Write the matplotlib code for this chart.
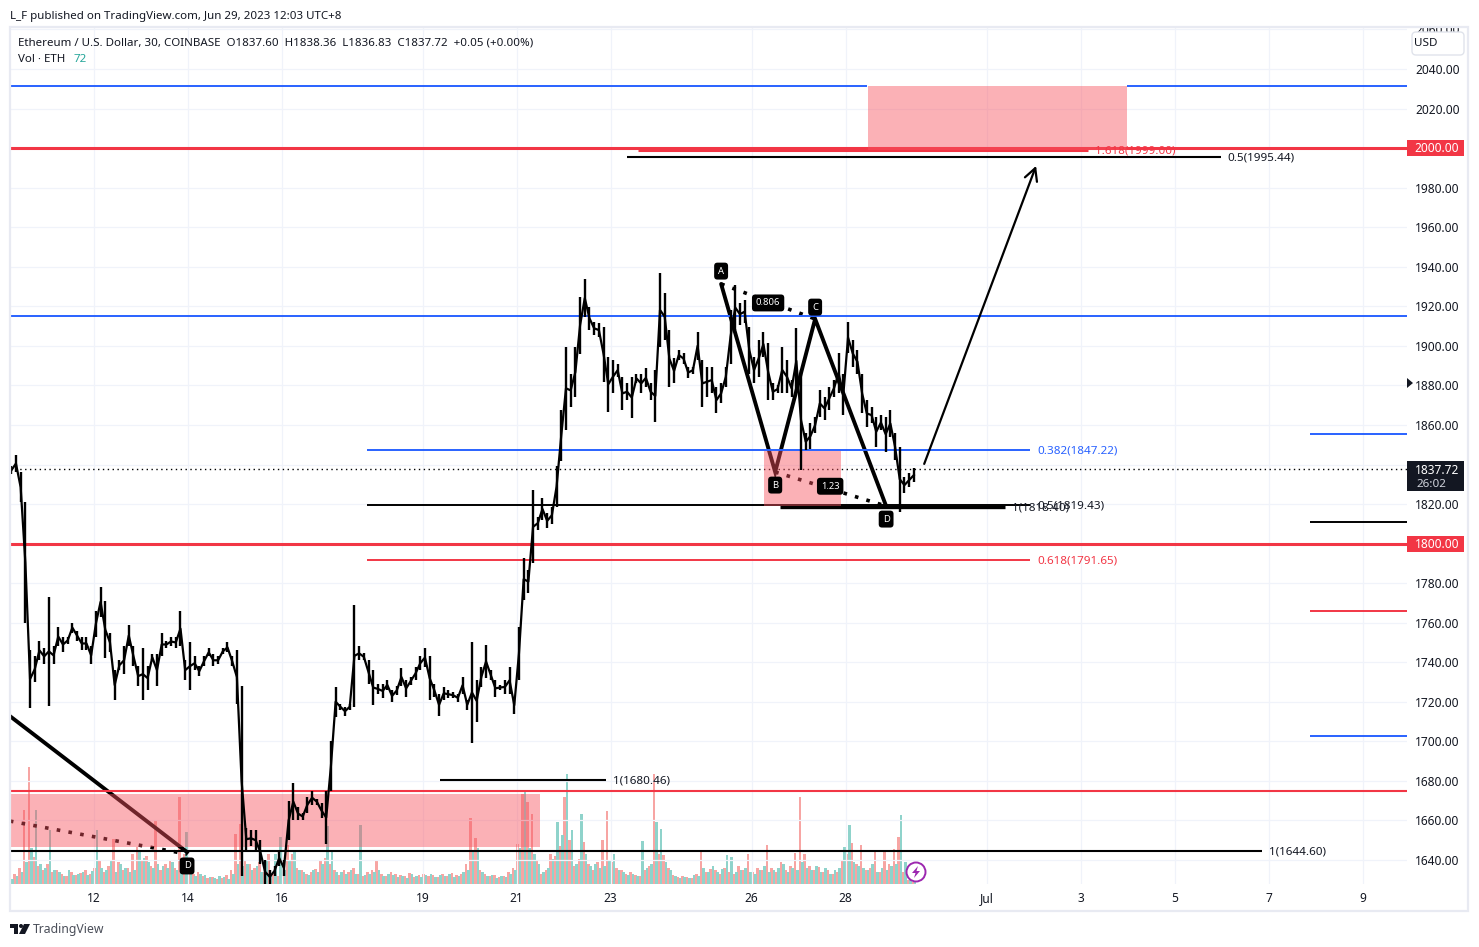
"""Ethereum / USD 30 minute chart with harmonic pattern drawings"""
import numpy as np
import matplotlib
matplotlib.use("Agg")
import matplotlib.pyplot as plt
from matplotlib.patches import Circle, FancyBboxPatch, Polygon, Rectangle
from matplotlib.transforms import IdentityTransform

FIRST_DAY = 10.25
BAR_STEP = 0.1

# June day numbers, July 1 is day 31
price_high = [
    1839, 1845, 1836, 1821, 1746, 1743, 1751, 1747, 1773, 1748,
    1758, 1753, 1753, 1760, 1756, 1753, 1753, 1748, 1766, 1778,
    1771, 1755, 1736, 1741, 1748, 1759, 1748, 1738, 1747, 1738,
    1744, 1744, 1755, 1751, 1753, 1753, 1766, 1741, 1750, 1743,
    1738, 1743, 1747, 1744, 1743, 1747, 1750, 1743, 1746, 1728,
    1656, 1655, 1655, 1650, 1640, 1635, 1637, 1645, 1640, 1670,
    1679, 1667, 1664, 1672, 1675, 1671, 1669, 1675, 1700, 1727.6,
    1719, 1717.5, 1719, 1769, 1748, 1744.5, 1741, 1736, 1729, 1729,
    1731, 1726, 1728, 1737, 1731, 1732.7, 1737.7, 1743, 1747, 1743,
    1729, 1724, 1727.6, 1726, 1725, 1724, 1732.7, 1721, 1750.4, 1731,
    1737.7, 1748.7, 1736, 1731, 1728.5, 1731, 1737.7, 1722.6, 1758, 1792.5,
    1786.6, 1827, 1813.6, 1823, 1815.3, 1818.7, 1839, 1867.5, 1899.6, 1886,
    1899.6, 1924.9, 1933.6, 1919.8, 1912.2, 1911.4, 1909.7, 1894.5, 1892.8, 1891,
    1884.4, 1881, 1884.4, 1886, 1886, 1888.6, 1881, 1887.8, 1936.7, 1926.5,
    1908, 1893.7, 1897.9, 1896.2, 1889.4, 1889.4, 1907.2, 1892.8, 1889.4, 1889.4,
    1879.3, 1881, 1889.4, 1918.1, 1930.8, 1921.5, 1923.2, 1909.7, 1894.5, 1903,
    1907.2, 1901.3, 1881, 1880.2, 1899.6, 1892.8, 1882.7, 1908.8, 1887.8, 1855.7,
    1860.8, 1864.2, 1877.6, 1874.3, 1879.3, 1882.7, 1896.2, 1886, 1912.2, 1903,
    1897.9, 1886, 1872.6, 1869.2, 1864.2, 1865, 1864.2, 1867.5, 1855.7, 1849,
    1833.8, 1835.5, 1838,
]
price_low = [
    1835, 1836, 1821, 1760, 1717, 1730, 1741, 1739, 1718, 1739,
    1748, 1745, 1749, 1755, 1751, 1746, 1746, 1739, 1753, 1763,
    1742, 1745, 1721, 1736, 1734, 1748, 1738, 1728, 1721, 1726,
    1741, 1728, 1743, 1747, 1748, 1747, 1748, 1731, 1726, 1736,
    1733, 1738, 1743, 1738, 1739, 1744, 1745, 1738, 1719, 1632,
    1645, 1647, 1645, 1638, 1628, 1628, 1632, 1637, 1632, 1650,
    1660, 1660, 1660, 1664, 1668, 1668, 1661, 1648, 1675, 1712.5,
    1716, 1713, 1716, 1717.5, 1741, 1741, 1729, 1718.4, 1724, 1722,
    1726, 1720, 1723.4, 1728, 1722.6, 1728.5, 1731, 1736, 1737.7, 1721,
    1722.6, 1713, 1721, 1721.7, 1721.7, 1720, 1724, 1716, 1699, 1710,
    1727.6, 1732, 1731, 1722.6, 1726, 1724, 1724, 1714, 1731, 1771.5,
    1775, 1790, 1807, 1812, 1807.7, 1810, 1818.6, 1842, 1857.4, 1869,
    1874, 1896, 1914.7, 1908, 1905.5, 1904.6, 1881.9, 1866.7, 1876, 1884.4,
    1867.5, 1872.6, 1863.3, 1881, 1876, 1879, 1872.6, 1861.6, 1899.6, 1903,
    1879, 1881, 1892.8, 1891, 1883.6, 1886, 1892.8, 1869.2, 1874.3, 1876,
    1865.8, 1870.9, 1879.3, 1891, 1908, 1910.5, 1911.4, 1886, 1881, 1884.4,
    1894.5, 1872.6, 1872.6, 1876, 1876, 1876, 1874.3, 1876, 1837, 1847.3,
    1848, 1855.7, 1864.2, 1862.5, 1867.5, 1874.3, 1876, 1865, 1896.2, 1889.4,
    1886, 1865.8, 1859, 1860.8, 1849, 1857.4, 1846.5, 1854, 1842.2, 1816.1,
    1825.4, 1828.8, 1831.3,
]

volume_down = [
    7, 10, 16, 74, 117, 27, 18, 14, 20, 12,
    14, 10, 8, 12, 9, 11, 14, 10, 16, 24,
    12, 18, 45, 22, 14, 16, 30, 37, 24, 28,
    18, 64, 14, 20, 24, 16, 87, 30, 16, 10,
    12, 8, 6, 7, 5, 6, 9, 14, 50, 60,
    24, 20, 16, 22, 12, 30, 10, 8, 20, 39,
    30, 16, 14, 10, 12, 15, 24, 26, 20, 14,
    9, 14, 12, 16, 10, 8, 12, 14, 24, 10,
    8, 12, 10, 9, 8, 11, 7, 9, 10, 8,
    9, 7, 10, 8, 11, 9, 10, 20, 66, 46,
    14, 10, 8, 9, 7, 8, 12, 16, 40, 90,
    82, 70, 24, 10, 14, 30, 28, 38, 87, 44,
    18, 25, 42, 20, 14, 22, 44, 73, 22, 16,
    14, 10, 12, 9, 8, 14, 18, 110, 30, 29,
    16, 9, 7, 8, 7, 6, 10, 32, 12, 15,
    14, 10, 16, 12, 10, 18, 14, 30, 12, 16,
    14, 39, 16, 12, 22, 14, 18, 31, 87, 30,
    18, 14, 17, 12, 14, 10, 12, 24, 30, 41,
    20, 39, 14, 16, 32, 12, 32, 20, 35, 47,
    12, 4, 2,
]
volume_up = [
    5, 8, 12, 22, 36, 74, 20, 16, 54, 14,
    12, 8, 14, 9, 10, 12, 9, 13, 54, 16,
    14, 24, 12, 20, 16, 12, 14, 34, 26, 22,
    16, 20, 18, 16, 22, 14, 20, 52, 14, 8,
    10, 9, 7, 6, 8, 7, 5, 10, 20, 18,
    20, 14, 18, 12, 24, 10, 30, 47, 14, 24,
    34, 14, 12, 9, 14, 12, 20, 58, 34, 12,
    12, 10, 14, 10, 59, 9, 10, 12, 14, 8,
    10, 9, 7, 8, 6, 10, 8, 7, 9, 10,
    7, 9, 8, 10, 7, 8, 12, 14, 34, 36,
    12, 8, 9, 6, 8, 7, 10, 14, 36, 92,
    36, 30, 20, 12, 16, 25, 62, 49, 110, 54,
    20, 70, 30, 18, 20, 16, 18, 24, 30, 14,
    12, 9, 10, 8, 43, 16, 20, 62, 55, 22,
    14, 8, 6, 7, 6, 9, 8, 16, 12, 18,
    12, 15, 29, 27, 12, 14, 16, 12, 10, 14,
    18, 12, 14, 16, 20, 12, 16, 14, 22, 16,
    14, 18, 12, 16, 10, 14, 16, 37, 59, 22,
    18, 16, 14, 20, 12, 16, 14, 18, 20, 69,
    22, 10, 3,
]

y_ticks = list(range(1640, 2061, 20))
# 1800, 1840 and 2000 sit behind the price flags
hidden_ticks = [1800, 1840, 2000]
x_ticks = [12, 14, 16, 19, 21, 23, 26, 28, 31, 33, 35, 37, 39]
x_labels = ["12", "14", "16", "19", "21", "23", "26", "28", "Jul", "3", "5", "7", "9"]

# price, start day, end day, colour, width in points
level_lines = [
    (2031.4, 10.22, 28.45, "#2962ff", 1.4),
    (2031.4, 33.99, 39.94, "#2962ff", 1.4),
    (2000.0, 10.22, 39.94, "#f23645", 2.2),
    (1915.0, 10.22, 39.94, "#2962ff", 1.4),
    (1800.0, 10.22, 39.94, "#f23645", 2.2),
    (1675.0, 10.22, 39.94, "#f23645", 1.5),
    (1644.6, 10.22, 36.86, "#000000", 1.5),
    (1999.0, 23.58, 33.16, "#f23645", 2.2),
    (1995.44, 23.35, 35.99, "#000000", 1.5),
    (1847.22, 17.82, 31.92, "#2962ff", 1.4),
    (1819.43, 17.82, 31.92, "#000000", 1.4),
    (1791.65, 17.82, 31.92, "#f23645", 1.4),
    (1680.46, 19.37, 22.90, "#000000", 1.5),
    (1818.40, 26.61, 31.39, "#000000", 2.4),
    (1855.4, 37.88, 39.94, "#2962ff", 1.4),
    (1810.9, 37.88, 39.94, "#000000", 1.4),
    (1766.0, 37.88, 39.94, "#f23645", 1.4),
    (1702.7, 37.88, 39.94, "#2962ff", 1.4),
]
# text, day, price, colour
level_labels = [
    ("1.618(1999.00)", 33.31, 1998.6, "#f23645"),
    ("0.5(1995.44)", 36.11, 1995.0, "#131722"),
    ("0.382(1847.22)", 32.08, 1846.8, "#2962ff"),
    ("0.5(1819.43)", 32.08, 1819.0, "#131722"),
    ("1(1818.40)", 31.53, 1818.0, "#131722"),
    ("0.618(1791.65)", 32.08, 1791.2, "#f23645"),
    ("1(1680.46)", 23.05, 1680.0, "#131722"),
    ("1(1644.60)", 37.01, 1644.2, "#131722"),
]
# start day, end day, low price, high price
zones = [
    (28.47, 33.99, 1999.0, 2031.4),
    (26.26, 27.90, 1819.0, 1846.8),
    (10.22, 21.50, 1646.6, 1673.4),
]

pattern_days = [25.35, 26.50, 27.35, 28.86]
pattern_prices = [1931.3, 1836.2, 1913.6, 1819.0]
pattern_names = ["A", "B", "C", "D"]
pattern_name_prices = [1937.8, 1829.6, 1919.6, 1812.4]
old_pattern_days = [10.22, 13.99]
old_pattern_prices = [1712.8, 1644.0]
old_dotted_prices = [1659.7, 1643.0]

PANE_TOP, PANE_BOTTOM = 27, 884
PANE_LEFT, PANE_RIGHT = 10, 1407
FONT = "Noto Sans"
INK = "#131722"
DOTS = (0, (1, 2.3))


def fx(x):
    """Picture pixel x to figure fraction"""
    return x / 1479


def fy(y):
    """Picture pixel y to figure fraction"""
    return 1 - y / 947


def badge(ax, day, price, text, size=6.8):
    """Black rounded label with white text"""
    ax.text(day, price, text, ha="center", va="center", color="white",
            fontsize=size, fontweight="bold", family=FONT, zorder=8,
            bbox=dict(boxstyle="round,pad=0.42,rounding_size=0.35", fc="#000000",
                      ec="none"))


def add_logo(fig):
    """TradingView mark in the footer, drawn in screen pixels"""
    shapes = [
        [(10, 924), (18, 924), (18, 934), (14, 934), (14, 928), (10, 928)],
        [(24, 924), (30, 924), (25, 934), (19, 934)],
    ]
    for shape in shapes:
        pts = [(x, 947 - y) for x, y in shape]
        fig.add_artist(Polygon(pts, closed=True, fc=INK, ec="none",
                               transform=IdentityTransform()))
    fig.add_artist(Circle((21, 947 - 926), 2, fc=INK, ec="none",
                          transform=IdentityTransform()))


def add_frame(fig):
    """Mask above the pane, outer frame and the currency box"""
    fig.add_artist(Rectangle((fx(1407), fy(27)), fx(72), 27 / 947, fc="white",
                             ec="none", zorder=5))
    fig.add_artist(Rectangle((fx(10), fy(911)), fx(1458), 884 / 947, fc="none",
                             ec="#e8eaf2", lw=1.6, zorder=6))
    fig.add_artist(FancyBboxPatch((1412, 947 - 55), 52, 23,
                                  boxstyle="round,pad=0,rounding_size=4",
                                  fc="white", ec="#e0e3eb", lw=1,
                                  transform=IdentityTransform(), zorder=6))
    fig.text(fx(1414), fy(43), "USD", fontsize=8.4, family=FONT, color=INK,
             va="center", zorder=7)


def add_price_flags(fig):
    """Coloured price labels sitting on the right scale"""
    for (y, label) in ((148, "2000.00"), (544, "1800.00")):
        fig.add_artist(Rectangle((fx(1407), fy(y + 8)), fx(57), 16 / 947,
                                 fc="#f23645", ec="none", zorder=6))
        fig.text(fx(1437), fy(y + 0.5), label, color="white", fontsize=8.6,
                 fontweight="bold", family=FONT, ha="center", va="center",
                 zorder=7)
    fig.add_artist(Rectangle((fx(1407), fy(491)), fx(57), 30 / 947, fc="#131722",
                             ec="none", zorder=6))
    fig.text(fx(1437), fy(470), "1837.72", color="white", fontsize=8.6,
             fontweight="bold", family=FONT, ha="center", va="center", zorder=7)
    fig.text(fx(1431), fy(484), "26:02", color="#d1d4dc", fontsize=8.4,
             family=FONT, ha="center", va="center", zorder=7)
    fig.add_artist(Polygon([(1407, 947 - 378), (1413, 947 - 383),
                            (1407, 947 - 388)], closed=True, fc=INK, ec="none",
                           transform=IdentityTransform(), zorder=6))


def main():
    """Go Main Go"""
    fig = plt.figure(figsize=(14.79, 9.47), dpi=100)
    rect = [fx(PANE_LEFT), fy(PANE_BOTTOM), (PANE_RIGHT - PANE_LEFT) / 1479,
            (PANE_BOTTOM - PANE_TOP) / 947]
    ax_vol = fig.add_axes(rect, zorder=0)
    ax = fig.add_axes(rect, zorder=1, sharex=ax_vol)
    ax.patch.set_visible(False)

    bar_days = FIRST_DAY + BAR_STEP * np.arange(len(volume_up))
    ax_vol.bar(bar_days - 0.025, volume_down, width=0.056, color="#f7a5a3", lw=0,
               antialiased=False)
    ax_vol.bar(bar_days + 0.025, volume_up, width=0.056, color="#8fd3cb", lw=0,
               antialiased=False)
    ax_vol.set_ylim(0, 857)
    ax_vol.axis("off")

    ax.set_xlim(10.2234, 39.94)
    ax.set_ylim(1627.87, 2061.24)
    ax.set_yticks(y_ticks)
    ax.set_xticks(x_ticks)
    ax.set_xticklabels(x_labels, family=FONT)
    ax.yaxis.tick_right()
    ax.tick_params(axis="both", length=0, labelsize=8.6, colors=INK)
    ax.tick_params(axis="y", pad=6)
    ax.tick_params(axis="x", pad=5.5)
    ax.set_yticklabels(["" if v in hidden_ticks else "%.2f" % v for v in y_ticks],
                       family=FONT)
    for spine in ax.spines.values():
        spine.set_visible(False)
    ax.grid(True, color="#f0f3fa", lw=0.9, zorder=0)
    ax.set_axisbelow(True)

    # pattern legs sit under the zones so they pick up the tint
    ax.plot(pattern_days, pattern_prices, color="black", lw=2.8, zorder=2,
            solid_capstyle="round", solid_joinstyle="miter")
    ax.plot(old_pattern_days, old_pattern_prices, color="black", lw=2.8, zorder=2)
    ax.plot(pattern_days[0::2], pattern_prices[0::2], color="black", lw=2.6,
            ls=DOTS, zorder=2)
    ax.plot(pattern_days[1::2], pattern_prices[1::2], color="black", lw=2.6,
            ls=DOTS, zorder=2)
    ax.plot(old_pattern_days, old_dotted_prices, color="black", lw=2.6,
            ls=DOTS, zorder=2)

    for (price, start, end, color, width) in level_lines:
        ax.plot([start, end], [price, price], color=color, lw=width, zorder=2,
                solid_capstyle="butt")

    for (start, end, low, high) in zones:
        ax.add_patch(Rectangle((start, low), end - start, high - low,
                               fc="#f7525f", alpha=0.45, ec="none", zorder=3))

    ax.axhline(1837.72, color="black", lw=1, ls=(0, (1, 2.5)), zorder=2)

    days = FIRST_DAY + BAR_STEP * np.arange(len(price_high))
    highs = np.array(price_high)
    lows = np.array(price_low)
    ax.vlines(days, lows, highs, color="black", lw=1.7, zorder=4)
    ax.plot(days, (highs + lows) / 2, color="black", lw=1.6, zorder=4)

    for (text, day, price, color) in level_labels:
        ax.text(day, price, text, color=color, fontsize=8.4, family=FONT,
                va="center", zorder=3)

    ax.annotate("", xy=(32.05, 1991), xytext=(29.67, 1840.3), zorder=5,
                arrowprops=dict(arrowstyle="->,head_length=0.8,head_width=0.42",
                                color="black", lw=1.6, shrinkA=0, shrinkB=0,
                                mutation_scale=11))

    for (name, day, price) in zip(pattern_names, pattern_days, pattern_name_prices):
        badge(ax, day, price, name)
    badge(ax, 13.99, 1637.0, "D")
    badge(ax, 26.35, 1921.7, "0.806")
    badge(ax, 27.67, 1829.0, "1.23")

    fig.add_artist(Circle((916, 947 - 872), 9.5, fc="white", ec="#9c27b0", lw=1.4,
                          transform=IdentityTransform(), zorder=4))
    bolt = [(918, 866), (912, 873), (915.5, 873), (914, 878), (920, 871), (916.5, 871)]
    fig.add_artist(Polygon([(x, 947 - y) for x, y in bolt], closed=True,
                           fc="#9c27b0", ec="none",
                           transform=IdentityTransform(), zorder=4))

    add_frame(fig)
    add_price_flags(fig)
    add_logo(fig)

    fig.text(fx(10), fy(16.5), "L_F published on TradingView.com, Jun 29, 2023 12:03 UTC+8",
             fontsize=8.3, family=FONT, color=INK, va="center")
    fig.text(fx(18), fy(43),
             "Ethereum / U.S. Dollar, 30, COINBASE  O1837.60  H1838.36  L1836.83  "
             "C1837.72  +0.05 (+0.00%)",
             fontsize=8.3, family=FONT, color=INK, va="center", zorder=7)
    fig.text(fx(18), fy(59), "Vol · ETH", fontsize=8.3, family=FONT, color=INK,
             va="center", zorder=7)
    fig.text(fx(74), fy(59), "72", fontsize=8.3, family=FONT, color="#26a69a",
             va="center", zorder=7)
    fig.text(fx(33), fy(929.5), "TradingView", fontsize=8.8, family=FONT,
             color="#4a4e59", va="center")

    fig.savefig("out.png", dpi=100)


if __name__ == "__main__":
    main()
